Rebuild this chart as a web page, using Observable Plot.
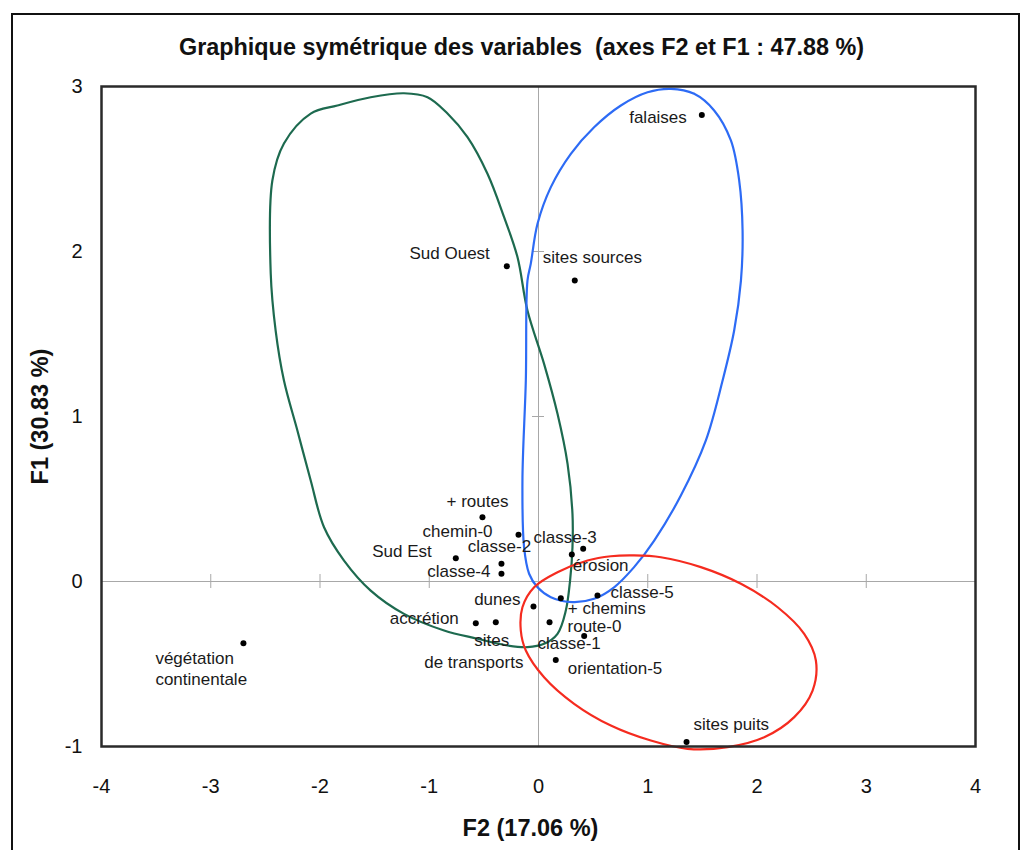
<!DOCTYPE html>
<html>
<head>
<meta charset="utf-8">
<script src="https://cdn.jsdelivr.net/npm/d3@7"></script>
<script src="https://cdn.jsdelivr.net/npm/@observablehq/plot@0.6"></script>
<style>
  html, body { margin: 0; padding: 0; background: #fff; }
  #wrap { position: relative; width: 1025px; height: 850px; overflow: hidden; background: #fff; }
  #outer { position: absolute; left: 11px; top: 13px; width: 1009px; height: 900px; border: 2px solid #111; box-sizing: border-box; }
  #chart { position: absolute; left: 0; top: 0; }
</style>
</head>
<body>
<div id="wrap"><div id="outer"></div><div id="chart"></div></div>
<script>
// ---- data ----
const titleText = "Graphique symétrique des variables \u00a0(axes F2 et F1 : 47.88 %)";
const xLabel = "F2 (17.06 %)";
const yLabel = "F1 (30.83 %)";
const xTicks = [-4, -3, -2, -1, 0, 1, 2, 3, 4];
const yTicks = [-1, 0, 1, 2, 3];

const names = ["falaises", "sites sources", "Sud Ouest", "+ routes", "chemin-0", "Sud Est",
  "classe-2", "classe-4", "érosion", "classe-3", "dunes", "+ chemins", "accrétion",
  "sites\nde transports", "route-0", "classe-5", "classe-1", "orientation-5", "sites puits",
  "végétation\ncontinentale"];
const f2 = [1.495, 0.332, -0.290, -0.513, -0.183, -0.757, -0.339, -0.339, 0.305, 0.409, -0.046,
  0.204, -0.574, -0.391, 0.101, 0.540, 0.418, 0.158, 1.355, -2.701];
const f1 = [2.828, 1.824, 1.911, 0.390, 0.283, 0.141, 0.107, 0.047, 0.164, 0.198, -0.152,
  -0.101, -0.253, -0.247, -0.247, -0.085, -0.331, -0.475, -0.972, -0.374];

// hand-drawn groupings (F2, F1)
const greenGroup = [[-2.451,1.867],[-2.436,2.430],[-2.330,2.655],[-2.085,2.836],[-1.841,2.885],[-1.536,2.935],
  [-1.231,2.959],[-1.016,2.935],[-0.833,2.836],[-0.650,2.693],[-0.467,2.471],[-0.315,2.208],[-0.192,1.965],
  [-0.101,1.642],[0.051,1.319],[0.174,1.016],[0.266,0.713],[0.311,0.410],[0.311,0.208],[0.289,0.006],
  [0.250,-0.176],[0.174,-0.317],[0.051,-0.378],[-0.101,-0.398],[-0.284,-0.388],[-0.559,-0.347],[-0.864,-0.297],
  [-1.231,-0.196],[-1.536,-0.055],[-1.780,0.127],[-1.963,0.329],[-2.085,0.612],[-2.207,0.915],[-2.330,1.218],
  [-2.406,1.521]];
const blueGroup = [[1.212,2.986],[1.425,2.956],[1.608,2.855],[1.761,2.673],[1.837,2.430],[1.868,2.127],
  [1.853,1.824],[1.791,1.521],[1.685,1.218],[1.532,0.855],[1.303,0.521],[1.059,0.248],[0.875,0.087],
  [0.692,-0.035],[0.509,-0.105],[0.311,-0.125],[0.113,-0.095],[-0.009,-0.035],[-0.086,0.047],[-0.132,0.208],
  [-0.147,0.612],[-0.116,1.218],[-0.101,1.824],[-0.071,1.925],[-0.009,2.168],[0.113,2.390],[0.296,2.592],
  [0.509,2.753],[0.754,2.885],[0.998,2.965]];
const redGroup = [[0.875,0.158],[1.120,0.147],[1.486,0.087],[1.853,-0.014],[2.189,-0.156],[2.432,-0.317],
  [2.539,-0.479],[2.509,-0.661],[2.341,-0.822],[2.066,-0.944],[1.731,-1.004],[1.364,-1.014],[1.028,-0.964],
  [0.662,-0.873],[0.326,-0.741],[0.051,-0.580],[-0.116,-0.418],[-0.162,-0.297],[-0.147,-0.156],[-0.040,-0.035],
  [0.174,0.056],[0.449,0.127],[0.662,0.153]];

// ---- label layout (anchor, pixel offsets per line) ----
const labelLayout = {
  "falaises": ["end", [[-15, 3]]],
  "sites sources": ["start", [[-32, -23]]],
  "Sud Ouest": ["end", [[-17, -13]]],
  "+ routes": ["middle", [[-5, -16]]],
  "chemin-0": ["end", [[-26, -3]]],
  "Sud Est": ["end", [[-24, -7]]],
  "classe-2": ["middle", [[-2, -17]]],
  "classe-4": ["end", [[-11, -2]]],
  "érosion": ["start", [[1, 11]]],
  "classe-3": ["middle", [[-18, -11]]],
  "dunes": ["end", [[-13, -7]]],
  "+ chemins": ["start", [[7, 10]]],
  "accrétion": ["end", [[-17, -5]]],
  "sites\nde transports": ["middle", [[-4, 18], [-22, 40]]],
  "route-0": ["start", [[18, 4]]],
  "classe-5": ["start", [[13, -3]]],
  "classe-1": ["middle", [[-15, 7]]],
  "orientation-5": ["start", [[12, 9]]],
  "sites puits": ["start", [[7, -17]]],
  "végétation\ncontinentale": ["start", [[-88, 15], [-88, 36]]]
};

const points = names.map((n, i) => ({name: n, x: f2[i], y: f1[i]}));
const font = "'Liberation Sans', Arial, Helvetica, sans-serif";

const labelMarks = [];
points.forEach(p => {
  const [anchor, offs] = labelLayout[p.name];
  const lines = p.name.split("\n");
  lines.forEach((line, k) => {
    labelMarks.push(Plot.text([p], {
      x: "x", y: "y", text: () => line,
      textAnchor: anchor, lineAnchor: "middle",
      dx: offs[k][0], dy: offs[k][1],
      fontSize: 17, fill: "#1a1a1a"
    }));
  });
});

const chart = Plot.plot({
  width: 1025,
  height: 850,
  marginLeft: 101,
  marginRight: 50,
  marginTop: 86,
  marginBottom: 104,
  style: {fontFamily: font, background: "transparent", color: "#111", overflow: "visible"},
  x: {domain: [-4, 4]},
  y: {domain: [-1, 3]},
  marks: [
    Plot.ruleX([0], {stroke: "#a8a8a8", strokeWidth: 1}),
    Plot.ruleY([0], {stroke: "#a8a8a8", strokeWidth: 1}),
    Plot.ruleX(xTicks.filter(d => d > -4 && d < 4 && d !== 0), {x: d => d, y1: 0, y2: 0, insetTop: -7, insetBottom: -7, stroke: "#a8a8a8"}),
    Plot.ruleY(yTicks.filter(d => d > -1 && d < 3 && d !== 0), {y: d => d, x1: 0, x2: 0, insetLeft: -6, insetRight: -6, stroke: "#a8a8a8"}),
    Plot.line(greenGroup, {x: d => d[0], y: d => d[1], curve: "catmull-rom-closed", stroke: "#1d6a4f", strokeWidth: 2.2}),
    Plot.line(blueGroup, {x: d => d[0], y: d => d[1], curve: "catmull-rom-closed", stroke: "#2d6bf5", strokeWidth: 2.2}),
    Plot.line(redGroup, {x: d => d[0], y: d => d[1], curve: "catmull-rom-closed", stroke: "#f52b1f", strokeWidth: 2.2}),
    Plot.dot(points, {x: "x", y: "y", r: 3, fill: "#000", stroke: "none"}),
    ...labelMarks,
    Plot.axisX(xTicks, {tickSize: 0, tickPadding: 32, fontSize: 20, tickFormat: d => String(d), label: null}),
    Plot.axisY(yTicks, {tickSize: 0, tickPadding: 19, fontSize: 20, tickFormat: d => String(d), label: null}),
    Plot.frame({stroke: "#2a2a2a", strokeWidth: 2.5}),
    Plot.text([titleText], {frameAnchor: "top", textAnchor: "middle", dx: -17, dy: -39, lineAnchor: "middle", fontSize: 23.4, fontWeight: "bold", fill: "#111"}),
    Plot.text([xLabel], {frameAnchor: "bottom", textAnchor: "middle", dx: -8, dy: 82, lineAnchor: "middle", fontSize: 23.5, fontWeight: "bold", fill: "#111"}),
    Plot.text([yLabel], {frameAnchor: "left", textAnchor: "middle", dx: -61, rotate: -90, lineAnchor: "middle", fontSize: 23.5, fontWeight: "bold", fill: "#111"})
  ]
});
document.getElementById("chart").appendChild(chart);
</script>
</body>
</html>
